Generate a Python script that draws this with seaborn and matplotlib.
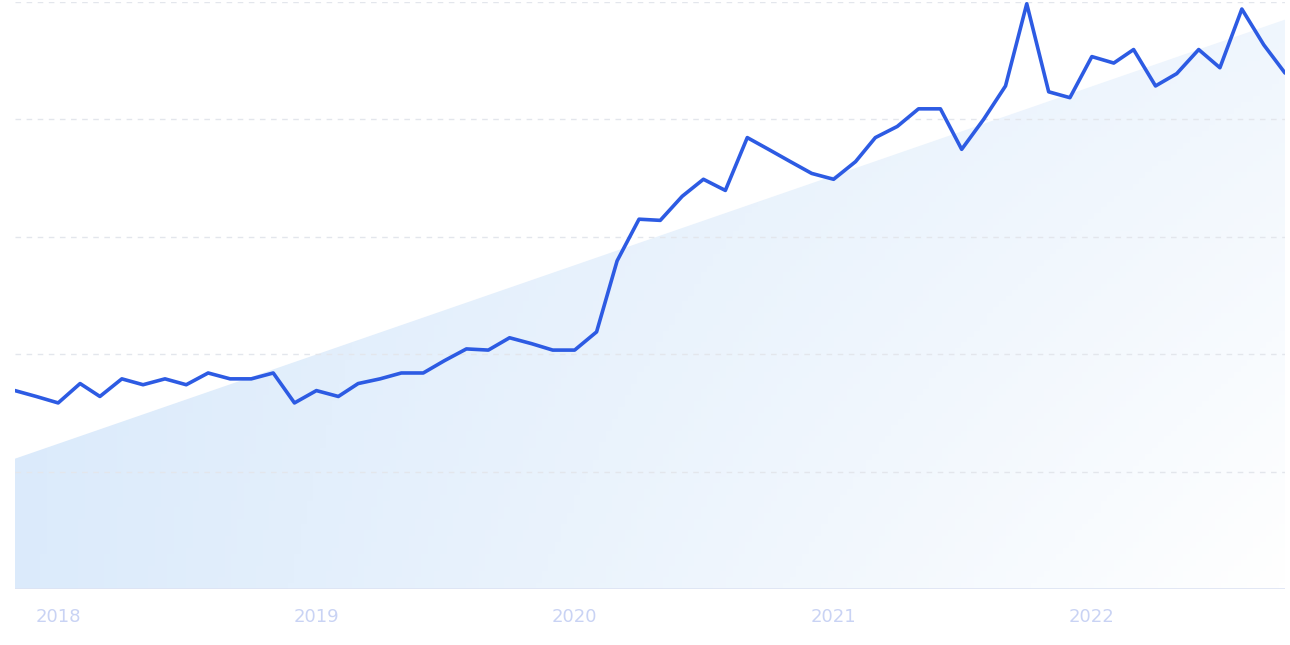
import numpy as np
import pandas as pd
import matplotlib
matplotlib.use("Agg")
import matplotlib.pyplot as plt
import matplotlib.dates as mdates
from matplotlib.patches import Polygon
import seaborn as sns

# monthly search interest, Nov 2017 .. Oct 2022
dates = pd.date_range("2017-11-01", periods=60, freq="MS")
interest = [33.8, 32.8, 31.7, 35.0, 32.8, 35.8, 34.8, 35.8, 34.8, 36.8,
            35.8, 35.8, 36.8, 31.7, 33.8, 32.8, 35.0, 35.8, 36.8, 36.8,
            38.9, 40.9, 40.7, 42.8, 41.8, 40.7, 40.7, 43.8, 55.9, 63.0,
            62.8, 66.9, 69.8, 67.9, 76.9, 74.9, 72.8, 70.8, 69.8, 72.8,
            76.9, 78.8, 81.8, 81.8, 74.9, 80.0, 85.7, 99.7, 84.7, 83.7,
            90.7, 89.6, 91.9, 85.7, 87.8, 91.9, 88.8, 98.8, 92.7, 87.9]
trend_start, trend_end = 22.2, 97.0
year_ticks = ["2018", "2019", "2020", "2021", "2022"]

df = pd.DataFrame({"date": dates, "interest": interest})

sns.set_style("white")
fig = plt.figure(figsize=(12.9, 6.45), dpi=100)
ax = fig.add_axes([15 / 1290, 56 / 645, 1270 / 1290, 587 / 645])

x0, x1 = mdates.date2num(dates[0]), mdates.date2num(dates[-1])

# gradient-filled trend area
grad = np.zeros((100, 200, 4))
xs = np.linspace(0, 1, 200)[None, :]
ys = np.linspace(0, 1, 100)[:, None]  # 0 = bottom
t = np.clip(0.55 * xs + 0.45 * xs * (1 - ys), 0, 1)
c0 = np.array([0.86, 0.92, 0.985])
c1 = np.array([1.0, 1.0, 1.0])
grad[..., :3] = c0 * (1 - t[..., None]) + c1 * t[..., None]
grad[..., 3] = 1
im = ax.imshow(grad, extent=[x0, x1, 0, 100], origin="lower", aspect="auto", zorder=1)
poly = Polygon([(x0, 0), (x0, trend_start), (x1, trend_end), (x1, 0)],
               closed=True, facecolor="none", edgecolor="none")
ax.add_patch(poly)
im.set_clip_path(poly)

for g in [20, 40, 60, 80, 100]:
    ax.axhline(g, color="#e3e6ec", lw=1, ls=(0, (4, 4)), zorder=2)
ax.axhline(0, color="#dde3f3", lw=1.2, zorder=2)

sns.lineplot(data=df, x="date", y="interest", ax=ax, color="#2d5be3", lw=2.6, zorder=3)

ax.set_xlim(x0, x1)
ax.set_ylim(0, 100)
ax.set_xticks([mdates.date2num(pd.Timestamp(f"{y}-01-01")) for y in year_ticks])
ax.set_xticklabels(year_ticks, color="#c9d3f4", fontsize=13)
ax.tick_params(axis="x", length=0, pad=14)
ax.set_yticks([])
ax.set_xlabel("")
ax.set_ylabel("")
for s in ax.spines.values():
    s.set_visible(False)

fig.savefig("out.png", dpi=100)
